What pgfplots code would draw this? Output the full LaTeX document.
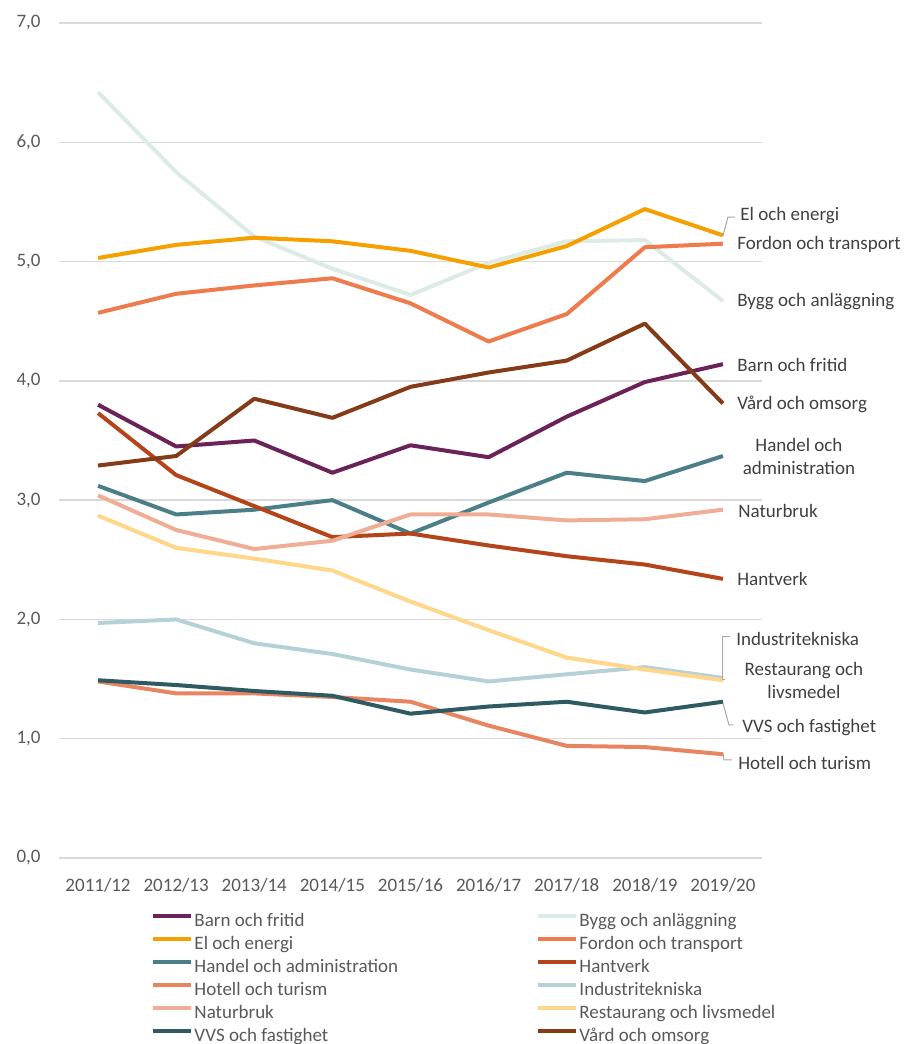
\documentclass[border=0pt]{standalone}
\usepackage{pgfplots}
\pgfplotsset{compat=1.18}
\usepackage{fontspec}
\setmainfont{Carlito}

\definecolor{cBarn}{HTML}{6B2258}
\definecolor{cBygg}{HTML}{DCEBE6}
\definecolor{cEl}{HTML}{F59F00}
\definecolor{cFordon}{HTML}{EF7A4C}
\definecolor{cHandel}{HTML}{4A7F88}
\definecolor{cHantverk}{HTML}{B4441A}
\definecolor{cHotell}{HTML}{E8845F}
\definecolor{cIndustri}{HTML}{B5D1D7}
\definecolor{cNatur}{HTML}{F0AD95}
\definecolor{cRest}{HTML}{FFD68A}
\definecolor{cVVS}{HTML}{2E5A61}
\definecolor{cVard}{HTML}{843B18}
\definecolor{tickgray}{HTML}{595959}
\definecolor{labgray}{HTML}{404040}
\definecolor{gridgray}{HTML}{D9D9D9}
\definecolor{leadgray}{HTML}{A6A6A6}

\begin{document}
\begin{tikzpicture}[font=\fontsize{9.5}{11.5}\selectfont]
\begin{axis}[
    scale only axis,
    width=351.5pt, height=417.5pt,
    xmin=-0.5, xmax=8.5,
    ymin=0, ymax=7,
    xtick={0,...,8},
    xticklabels={2011/12,2012/13,2013/14,2014/15,2015/16,2016/17,2017/18,2018/19,2019/20},
    ytick={0,1,...,7},
    /pgf/number format/assume math mode=true,
    yticklabel style={/pgf/number format/fixed, /pgf/number format/fixed zerofill,
        /pgf/number format/precision=1, /pgf/number format/use comma,
        anchor=east, inner sep=0pt, xshift=-9pt},
    ticklabel style={text=tickgray},
    xticklabel style={anchor=north, inner sep=0pt, yshift=-10pt},
    major tick length=0pt,
    axis line style={draw=none},
    ymajorgrids,
    grid style={gridgray, line width=0.75pt},
    clip=false,
    every axis plot/.append style={line width=2pt, line join=round, no markers},
    legend columns=2,
    legend cell align=left,
    legend style={at={(0.131,-0.0625)}, anchor=north west, draw=none, fill=none,
        inner sep=0pt, text=tickgray,
        nodes={inner sep=0pt, text height=8pt, text depth=3.5pt}},
    legend image code/.code={\draw[#1, line width=2pt] (0pt,3pt) -- (19pt,3pt); \path (19.5pt,3pt);},
]
% Barn och fritid
\addplot[cBarn] coordinates {(0,3.80) (1,3.45) (2,3.50) (3,3.23) (4,3.46) (5,3.36) (6,3.70) (7,3.99) (8,4.14)};
% Bygg och anlaggning
\addplot[cBygg] coordinates {(0,6.42) (1,5.75) (2,5.21) (3,4.94) (4,4.72) (5,4.99) (6,5.17) (7,5.18) (8,4.67)};
% El och energi
\addplot[cEl] coordinates {(0,5.03) (1,5.14) (2,5.20) (3,5.17) (4,5.09) (5,4.95) (6,5.13) (7,5.44) (8,5.22)};
% Fordon och transport
\addplot[cFordon] coordinates {(0,4.57) (1,4.73) (2,4.80) (3,4.86) (4,4.65) (5,4.33) (6,4.56) (7,5.12) (8,5.15)};
% Handel och administration
\addplot[cHandel] coordinates {(0,3.12) (1,2.88) (2,2.92) (3,3.00) (4,2.72) (5,2.98) (6,3.23) (7,3.16) (8,3.37)};
% Hantverk
\addplot[cHantverk] coordinates {(0,3.73) (1,3.21) (2,2.95) (3,2.69) (4,2.72) (5,2.62) (6,2.53) (7,2.46) (8,2.34)};
% Hotell och turism
\addplot[cHotell] coordinates {(0,1.48) (1,1.38) (2,1.38) (3,1.35) (4,1.31) (5,1.11) (6,0.94) (7,0.93) (8,0.87)};
% Industritekniska
\addplot[cIndustri] coordinates {(0,1.97) (1,2.00) (2,1.80) (3,1.71) (4,1.58) (5,1.48) (6,1.54) (7,1.60) (8,1.51)};
% Naturbruk
\addplot[cNatur] coordinates {(0,3.04) (1,2.75) (2,2.59) (3,2.66) (4,2.88) (5,2.88) (6,2.83) (7,2.84) (8,2.92)};
% Restaurang och livsmedel
\addplot[cRest] coordinates {(0,2.87) (1,2.60) (2,2.51) (3,2.41) (4,2.15) (5,1.91) (6,1.68) (7,1.58) (8,1.49)};
% VVS och fastighet
\addplot[cVVS] coordinates {(0,1.49) (1,1.45) (2,1.40) (3,1.36) (4,1.21) (5,1.27) (6,1.31) (7,1.22) (8,1.31)};
% Vard och omsorg
\addplot[cVard] coordinates {(0,3.29) (1,3.37) (2,3.85) (3,3.69) (4,3.95) (5,4.07) (6,4.17) (7,4.48) (8,3.81)};

\legend{\makebox[171pt][l]{Barn och fritid}, Bygg och anläggning,
        \makebox[171pt][l]{El och energi}, Fordon och transport,
        \makebox[171pt][l]{Handel och administration}, Hantverk,
        \makebox[171pt][l]{Hotell och turism}, Industritekniska,
        \makebox[171pt][l]{Naturbruk}, Restaurang och livsmedel,
        \makebox[171pt][l]{VVS och fastighet}, Vård och omsorg}

% data labels at the end of each line
\begin{scope}[every node/.style={inner sep=0pt, text=labgray}]
\node[anchor=west] at (axis cs:8.218,5.382) {El och energi};
\node[anchor=west] at (axis cs:8.179,5.147) {Fordon och transport};
\node[anchor=west] at (axis cs:8.179,4.669) {Bygg och anläggning};
\node[anchor=west] at (axis cs:8.179,4.133) {Barn och fritid};
\node[anchor=west] at (axis cs:8.179,3.806) {Vård och omsorg};
\node[align=center] at (axis cs:8.973,3.370) {Handel och\\administration};
\node[anchor=west] at (axis cs:8.192,2.909) {Naturbruk};
\node[anchor=west] at (axis cs:8.179,2.339) {Hantverk};
\node[anchor=west] at (axis cs:8.166,1.836) {Industritekniska};
\node[align=center] at (axis cs:9.037,1.490) {Restaurang och\\livsmedel};
\node[anchor=west] at (axis cs:8.243,1.090) {VVS och fastighet};
\node[anchor=west] at (axis cs:8.192,0.796) {Hotell och turism};
\end{scope}
\begin{scope}[leadgray, line width=0.5pt]
\draw (axis cs:8.0,5.214) -- (axis cs:8.064,5.373) -- (axis cs:8.154,5.373);
\draw (axis cs:8.03,1.50) -- (axis cs:8.0,1.50) -- (axis cs:8.0,1.853) -- (axis cs:8.09,1.853);
\draw (axis cs:8.0,1.299) -- (axis cs:8.077,1.115) -- (axis cs:8.13,1.115);
\draw (axis cs:8.0,0.880) -- (axis cs:8.013,0.822) -- (axis cs:8.115,0.822);
\end{scope}
\end{axis}
\pgfresetboundingbox
\path ([shift={(-29.5pt,-93pt)}]current axis.south west) rectangle ++(458pt,522pt);
\end{tikzpicture}
\end{document}
